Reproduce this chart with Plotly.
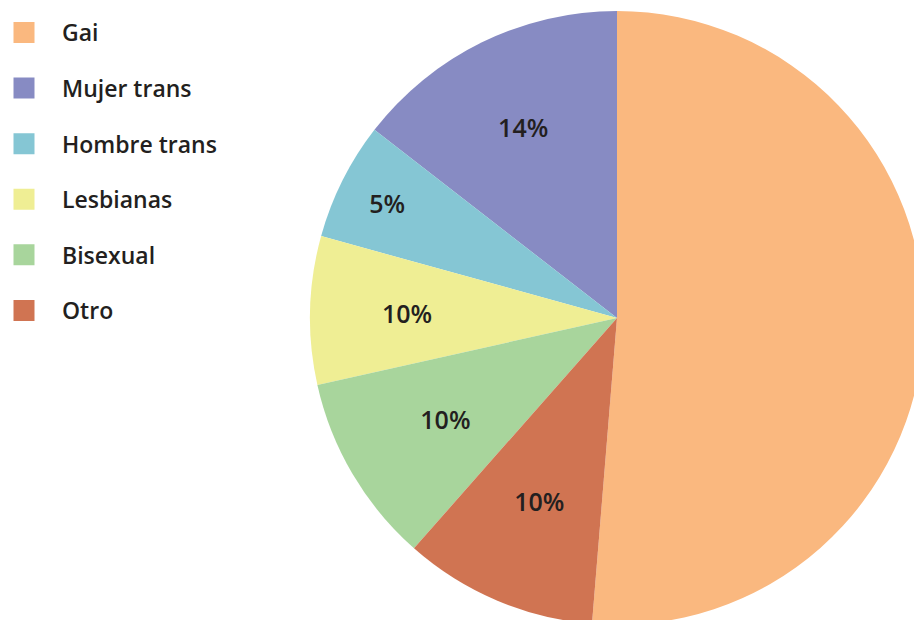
import plotly.graph_objects as go

categories = ["Gai", "Mujer trans", "Hombre trans", "Lesbianas", "Bisexual", "Otro"]
values = [51.3, 14.5, 6.2, 7.8, 10.0, 10.2]
slice_labels = ["", "14%", "5%", "10%", "10%", "10%"]
colors = ["#FAB87F", "#878BC3", "#85C6D4", "#EFEE94", "#A8D59C", "#D07452"]

# layout / style settings
W, H = 940, 640
cx, cy, r = 617, 318, 307
r_inner = 0.85 * r                      # inner transparent ring used to place some labels
outer_labelled = {"Mujer trans", "Hombre trans"}  # labels placed on the full-size pie
text_font = dict(family="Open Sans", size=25, color="#231f20", weight=600)


def dom(rad):
    return dict(x=[(cx - rad) / W, (cx + rad) / W], y=[(H - cy - rad) / H, (H - cy + rad) / H])


outer_text = [t if c in outer_labelled else "" for c, t in zip(categories, slice_labels)]
inner_text = [t if c not in outer_labelled else "" for c, t in zip(categories, slice_labels)]

common = dict(labels=categories, values=values, sort=False,
              direction="counterclockwise", rotation=0, showlegend=False,
              textinfo="text", textposition="inside",
              insidetextorientation="horizontal", textfont=text_font)

fig = go.Figure()
fig.add_trace(go.Pie(
    text=outer_text,
    marker=dict(colors=colors, line=dict(width=0)),
    hoverinfo="label+percent",
    domain=dom(r),
    **common,
))
fig.add_trace(go.Pie(
    text=inner_text,
    marker=dict(colors=["rgba(0,0,0,0)"] * len(categories), line=dict(width=0)),
    hoverinfo="skip",
    domain=dom(r_inner),
    **common,
))

for name, col in zip(categories, colors):
    fig.add_trace(go.Scatter(
        x=[None], y=[None], mode="markers", name=name, legendgroup=name,
        marker=dict(symbol="square", size=24, color=col, line=dict(color=col, width=5)),
    ))

fig.update_layout(
    width=W, height=H,
    margin=dict(l=0, r=0, t=0, b=0, autoexpand=False),
    paper_bgcolor="white", plot_bgcolor="white",
    xaxis=dict(visible=False), yaxis=dict(visible=False),
    showlegend=True,
    legend=dict(
        x=-14 / W, y=1 - 11 / H, xanchor="left", yanchor="top",
        font=dict(family="Open Sans", size=23, color="#231f20", weight=600),
        tracegroupgap=22.7, itemsizing="trace", itemwidth=66,
        bgcolor="rgba(0,0,0,0)",
    ),
)

fig.write_html("out.html", config={"displayModeBar": False},
               post_script="document.body.style.margin='0';")
